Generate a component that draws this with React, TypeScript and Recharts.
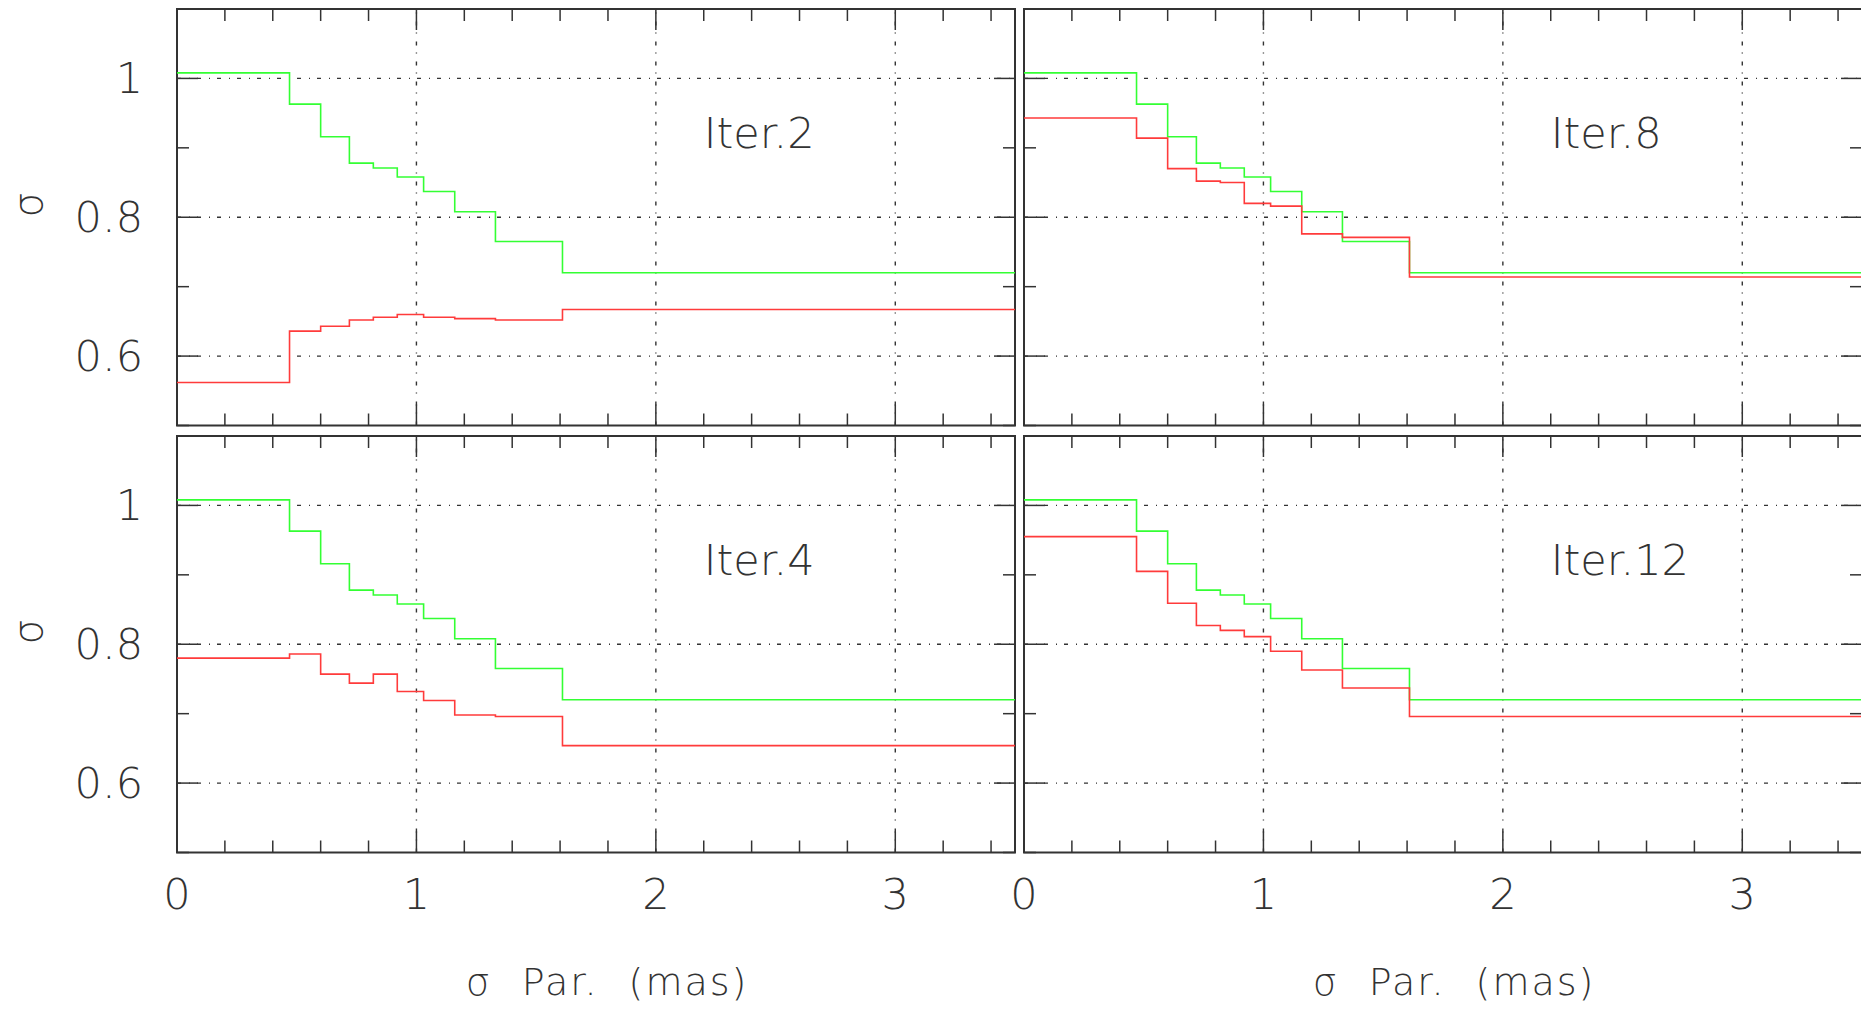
import {
    LineChart,
    Line,
    XAxis,
    YAxis,
    ReferenceLine,
    ReferenceArea,
    ReferenceDot,
    Label,
} from "recharts";

// step edges in sigma Par. (mas), last edge closes the plot
const BIN_EDGES = [0, 0.47, 0.6, 0.72, 0.82, 0.92, 1.03, 1.16, 1.33, 1.61, 3.5];

// reference curve, the same in every panel
const GREEN = [1.008, 0.963, 0.916, 0.878, 0.871, 0.858, 0.837, 0.808, 0.765, 0.72];

const RED_ITER2 = [0.562, 0.636, 0.643, 0.652, 0.656, 0.66, 0.656, 0.654, 0.652, 0.667];
const RED_ITER8 = [0.943, 0.914, 0.87, 0.852, 0.85, 0.82, 0.816, 0.776, 0.771, 0.714];
const RED_ITER4 = [0.78, 0.786, 0.757, 0.744, 0.757, 0.732, 0.719, 0.698, 0.696, 0.654];
const RED_ITER12 = [0.955, 0.905, 0.859, 0.827, 0.82, 0.811, 0.79, 0.763, 0.737, 0.696];

const X_TICKS = [0, 0.2, 0.4, 0.6, 0.8, 1, 1.2, 1.4, 1.6, 1.8, 2, 2.2, 2.4, 2.6, 2.8, 3, 3.2, 3.4];
const Y_TICKS = [0.5, 0.6, 0.7, 0.8, 0.9, 1, 1.1];
const X_GRID = [1, 2, 3];
const Y_GRID = [0.6, 0.8, 1];

// layout
const PLOT_W = 838;
const PLOT_H = 416.5;
const Y_AXIS_W = 177;
const M_TOP = 10;
const M_RIGHT = 10;
const COL_LEFT = [0, 847.3];
const ROW_TOP = [8.5 - M_TOP, 435.5 - M_TOP];

const INK = "#333";
const FONT = "'DejaVu Sans', sans-serif";
const GREEN_C = "#33ff33";
const RED_C = "#ff3b3b";
const GRID_DASH = "4 8 1 7";

const isMajor = (v: number) => Math.abs(v - Math.round(v)) < 1e-6;
const isMajorY = (v: number) =>
    Y_GRID.some((g) => Math.abs(g - v) < 1e-6);

function buildRows(red: number[]) {
    return BIN_EDGES.map((x, i) => ({
        x,
        green: GREEN[Math.min(i, GREEN.length - 1)],
        red: red[Math.min(i, red.length - 1)],
    }));
}

function makeXTick(showLabel: boolean) {
    return (props: any) => {
        const { x, y, payload } = props;
        const v = payload.value;
        const len = isMajor(v) ? 21 : 12;
        return (
            <g>
                <line x1={x} x2={x} y1={y} y2={y - len} stroke={INK} strokeWidth={1.5} />
                <line x1={x} x2={x} y1={y - PLOT_H} y2={y - PLOT_H + len} stroke={INK} strokeWidth={1.5} />
                {showLabel && isMajor(v) && (
                    <text
                        x={x}
                        y={y + 56}
                        textAnchor="middle"
                        fontFamily={FONT}
                        fontWeight={200}
                        fontSize={43}
                        fill={INK}
                    >
                        {Math.round(v)}
                    </text>
                )}
            </g>
        );
    };
}

function makeYTick(showLabel: boolean) {
    return (props: any) => {
        const { x, y, payload } = props;
        const v = payload.value;
        const len = isMajorY(v) ? 21 : 12;
        return (
            <g>
                <line x1={x} x2={x + len} y1={y} y2={y} stroke={INK} strokeWidth={1.5} />
                <line x1={x + PLOT_W} x2={x + PLOT_W - len} y1={y} y2={y} stroke={INK} strokeWidth={1.5} />
                {showLabel && isMajorY(v) && (
                    <text
                        x={x - 34}
                        y={y + 15}
                        textAnchor="end"
                        fontFamily={FONT}
                        fontWeight={200}
                        fontSize={43}
                        fill={INK}
                    >
                        {Number(v.toFixed(1)).toString()}
                    </text>
                )}
            </g>
        );
    };
}

function Panel({
    red,
    title,
    col,
    row,
}: {
    red: number[];
    title: string;
    col: number;
    row: number;
}) {
    const bottomRow = row === 1;
    const leftCol = col === 0;
    const xAxisH = bottomRow ? 165 : 10;
    const height = M_TOP + PLOT_H + xAxisH;
    const width = Y_AXIS_W + PLOT_W + M_RIGHT;
    const data = buildRows(red);

    return (
        <div
            style={{
                position: "absolute",
                left: COL_LEFT[col],
                top: ROW_TOP[row],
                width,
                height,
            }}
        >
            <LineChart
                width={width}
                height={height}
                data={data}
                margin={{ top: M_TOP, right: M_RIGHT, left: 0, bottom: 0 }}
            >
                <XAxis
                    dataKey="x"
                    type="number"
                    domain={[0, 3.5]}
                    ticks={X_TICKS}
                    interval={0}
                    allowDataOverflow
                    axisLine={false}
                    tickLine={false}
                    tickSize={0}
                    tickMargin={0}
                    height={xAxisH}
                    tick={makeXTick(bottomRow)}
                >
                    {bottomRow && (
                        <Label
                            content={(p: any) => {
                                const vb = p.viewBox;
                                return (
                                    <text
                                        x={vb.x + vb.width / 2 + 11}
                                        y={vb.y + 142}
                                        textAnchor="middle"
                                        fontFamily={FONT}
                                        fontWeight={200}
                                        fontSize={38}
                                        fill={INK}
                                        style={{ letterSpacing: 2, wordSpacing: 16 }}
                                    >
                                        σ Par. (mas)
                                    </text>
                                );
                            }}
                        />
                    )}
                </XAxis>
                <YAxis
                    type="number"
                    domain={[0.5, 1.1]}
                    ticks={Y_TICKS}
                    interval={0}
                    allowDataOverflow
                    axisLine={false}
                    tickLine={false}
                    tickSize={0}
                    tickMargin={0}
                    width={Y_AXIS_W}
                    tick={makeYTick(leftCol)}
                >
                    {leftCol && (
                        <Label
                            content={(p: any) => {
                                const vb = p.viewBox;
                                const cx = 28;
                                const cy = vb.y + vb.height / 2 - 12.5;
                                return (
                                    <text
                                        x={cx}
                                        y={cy}
                                        transform={`rotate(-90 ${cx} ${cy})`}
                                        textAnchor="middle"
                                        dominantBaseline="central"
                                        fontFamily={FONT}
                                        fontWeight={200}
                                        fontSize={40}
                                        fill={INK}
                                    >
                                        σ
                                    </text>
                                );
                            }}
                        />
                    )}
                </YAxis>

                {X_GRID.map((v) => (
                    <ReferenceLine
                        key={"gx" + v}
                        x={v}
                        stroke={INK}
                        strokeWidth={1.4}
                        strokeDasharray={GRID_DASH}
                    />
                ))}
                {Y_GRID.map((v) => (
                    <ReferenceLine
                        key={"gy" + v}
                        y={v}
                        stroke={INK}
                        strokeWidth={1.4}
                        strokeDasharray={GRID_DASH}
                    />
                ))}

                <Line
                    type="stepAfter"
                    dataKey="green"
                    stroke={GREEN_C}
                    strokeWidth={1.6}
                    dot={false}
                    isAnimationActive={false}
                />
                <Line
                    type="stepAfter"
                    dataKey="red"
                    stroke={RED_C}
                    strokeWidth={1.6}
                    dot={false}
                    isAnimationActive={false}
                />

                <ReferenceDot
                    x={2.2}
                    y={0.9}
                    r={0}
                    fill="none"
                    stroke="none"
                    ifOverflow="visible"
                    label={(p: any) => {
                        const vb = p.viewBox;
                        return (
                            <text
                                x={vb.x}
                                y={vb.y}
                                fontFamily={FONT}
                                fontWeight={200}
                                fontSize={43}
                                fill={INK}
                            >
                                {title}
                            </text>
                        );
                    }}
                />

                <ReferenceArea
                    x1={0}
                    x2={3.5}
                    y1={0.5}
                    y2={1.1}
                    fill="none"
                    stroke={INK}
                    strokeWidth={2}
                    ifOverflow="visible"
                />
            </LineChart>
        </div>
    );
}

export default function App() {
    return (
        <div
            style={{
                position: "absolute",
                left: 0,
                top: 0,
                width: 1861,
                height: 1014,
                overflow: "hidden",
                background: "#fff",
            }}
        >
            <Panel red={RED_ITER2} title="Iter.2" col={0} row={0} />
            <Panel red={RED_ITER8} title="Iter.8" col={1} row={0} />
            <Panel red={RED_ITER4} title="Iter.4" col={0} row={1} />
            <Panel red={RED_ITER12} title="Iter.12" col={1} row={1} />
        </div>
    );
}
